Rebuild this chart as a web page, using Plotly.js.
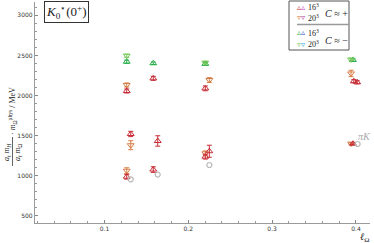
<!DOCTYPE html>
<html><head><meta charset="utf-8">
<script src="https://cdn.plot.ly/plotly-3.0.1.min.js"></script>
<style>html,body{margin:0;padding:0;background:#fff;}#c{width:374px;height:243px;}</style>
</head><body><div id="c"></div>
<script>
// 16^3, C ≈ + (red, triangle up)
const red16X = [0.1265, 0.1313, 0.1265, 0.1582, 0.1635, 0.1582, 0.2203, 0.2251, 0.2203, 0.3975, 0.4015, 0.3965];
const red16Y = [2056, 1520, 987, 2214, 1433, 1076, 2089, 1305, 1237, 2178, 2165, 1398];
const red16E = [25, 33, 30, 25, 65, 35, 30, 75, 30, 20, 20, 10];
// 20^3, C ≈ + (orange, triangle down)
const ora20X = [0.1265, 0.1313, 0.1265, 0.2251, 0.2203, 0.3942, 0.3942];
const ora20Y = [2131, 1380, 1062, 2193, 1279, 2275, 1400];
const ora20E = [25, 56, 37, 30, 30, 40, 10];
// 16^3, C ≈ − (green, triangle up)
const grn16X = [0.1265, 0.1582, 0.2203, 0.3965];
const grn16Y = [2421, 2402, 2395, 2443];
const grn16E = [20, 15, 20, 15];
// 20^3, C ≈ − (light green, triangle down)
const lgr20X = [0.1265, 0.2203, 0.3942];
const lgr20Y = [2496, 2410, 2450];
const lgr20E = [20, 15, 12];
// non-interacting πK levels (grey circles)
const piKX = [0.1313, 0.1635, 0.2251, 0.4020];
const piKY = [955, 1014, 1133, 1395];

const xTicks = [0.1, 0.2, 0.3, 0.4];
const yTicks = [500, 1000, 1500, 2000, 2500, 3000];

function series(x, y, e, color, sym){
  return {x:x, y:y, type:'scatter', mode:'markers', hoverinfo:'skip',
    marker:{symbol:sym, size:6, color:color, line:{color:color, width:1}},
    error_y:{type:'data', array:e, visible:true, color:color, thickness:1, width:2.5}};
}
const traces = [
  series(grn16X, grn16Y, grn16E, 'rgb(40,175,75)', 'triangle-up-open'),
  series(lgr20X, lgr20Y, lgr20E, 'rgb(120,200,90)', 'triangle-down-open'),
  series(ora20X, ora20Y, ora20E, 'rgb(215,125,70)', 'triangle-down-open'),
  series(red16X, red16Y, red16E, 'rgb(200,45,55)', 'triangle-up-open'),
  {x:piKX, y:piKY, type:'scatter', mode:'markers', hoverinfo:'skip',
   marker:{symbol:'circle-open', size:5, color:'rgb(185,185,185)', line:{width:1.2}}}
];

const L=35, T=2, W=335, H=221;
function PX(x){return (x-L)/W;}
function PY(y){return 1-(y-T)/H;}
const serif = 'Liberation Serif';
function ann(x, y, text, size, extra){
  return Object.assign({xref:'paper', yref:'paper', x:PX(x), y:PY(y), text:text, showarrow:false,
    font:{family:serif, size:size, color:'#222'}, xanchor:'center', yanchor:'middle'}, extra||{});
}
function tri(c1, c2, s){ return '<span style="color:'+c1+'">'+s+'</span><span style="color:'+c2+'">'+s+'</span>'; }

const annotations = [
  ann(66, 12, '<i>K</i><sub>0</sub><sup>⋆</sup>(0<sup>+</sup>)', 13,
      {bordercolor:'#333', borderwidth:1, borderpad:1, bgcolor:'#fff'}),
  // y-axis title (rotated)
  ann(7, 152, '<i>a<sub>t</sub> m<sub>H</sub></i>', 8, {textangle:-90}),
  ann(18, 152, '<i>a<sub>t</sub> m</i><sub>Ω</sub>', 8, {textangle:-90}),
  ann(12, 111, '· <i>m</i><sub>Ω</sub><sup>phys</sup> / MeV', 8, {textangle:-90}),
  // x-axis title
  ann(364, 237, '<i>ℓ</i><sub>Ω</sub>', 10),
  // πK label
  ann(364, 136, '<i>πK</i>', 10, {font:{family:serif, size:10, color:'#aaa'}}),
  // legend entries
  ann(301, 7, tri('rgb(200,45,55)','rgb(190,60,190)','▵'), 8),
  ann(313, 7, '16<sup>3</sup>', 8),
  ann(301, 18, tri('rgb(215,125,70)','rgb(180,70,150)','▿'), 8),
  ann(313, 18, '20<sup>3</sup>', 8),
  ann(336, 13, '<i>C</i> ≈ +', 10),
  ann(301, 33, tri('rgb(40,175,75)','rgb(60,80,200)','▵'), 8),
  ann(313, 33, '16<sup>3</sup>', 8),
  ann(301, 44, tri('rgb(120,200,90)','rgb(60,170,220)','▿'), 8),
  ann(313, 44, '20<sup>3</sup>', 8),
  ann(336, 40, '<i>C</i> ≈ −', 10)
];

const shapes = [
  {type:'rect', xref:'paper', yref:'paper', x0:PX(289), x1:PX(349), y0:PY(50), y1:PY(1),
   line:{color:'#555', width:1}, fillcolor:'rgba(255,255,255,0)'},
  {type:'line', xref:'paper', yref:'paper', x0:PX(297), x1:PX(349), y0:PY(24.5), y1:PY(24.5),
   line:{color:'#999', width:1.5}},
  {type:'line', xref:'paper', yref:'paper', x0:PX(12.5), x1:PX(12.5), y0:PY(137), y1:PY(166),
   line:{color:'#222', width:0.7}}
];

const layout = {
  width:374, height:243, margin:{l:L, r:374-L-W, t:T, b:243-T-H},
  paper_bgcolor:'#fff', plot_bgcolor:'#fff', showlegend:false,
  xaxis:{range:[0.01706, 0.4168], showgrid:false, zeroline:false, showline:true,
    linecolor:'#9a9a9a', linewidth:1.2, ticks:'inside', ticklen:3, tickcolor:'#888', tickwidth:1,
    tickvals:xTicks, ticktext:xTicks.map(String), tickfont:{family:'DejaVu Sans', size:6, color:'#333'},
    minor:{dtick:0.02, ticks:'inside', ticklen:2, tickcolor:'#999', showgrid:false}},
  yaxis:{range:[410, 3166], showgrid:false, zeroline:false, showline:true,
    linecolor:'#9a9a9a', linewidth:1.2, ticks:'inside', ticklen:3, tickcolor:'#888', tickwidth:1,
    tickvals:yTicks, ticktext:yTicks.map(String), tickfont:{family:'DejaVu Sans', size:6, color:'#333'},
    minor:{dtick:100, ticks:'inside', ticklen:2, tickcolor:'#999', showgrid:false}},
  annotations:annotations, shapes:shapes
};
Plotly.newPlot('c', traces, layout, {staticPlot:true, displayModeBar:false});
</script></body></html>
